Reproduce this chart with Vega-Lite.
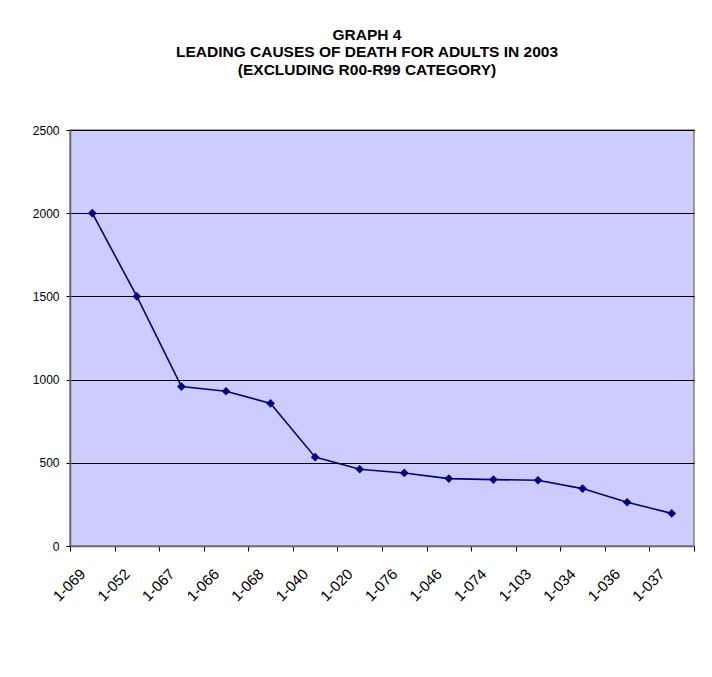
{
  "$schema": "https://vega.github.io/schema/vega-lite/v6.json",
  "width": 624,
  "height": 416,
  "autosize": {"type": "none"},
  "padding": {"left": 70, "top": 130, "right": 18, "bottom": 131},
  "background": "white",
  "title": {
    "text": ["GRAPH 4", "LEADING CAUSES OF DEATH FOR ADULTS IN 2003", "(EXCLUDING R00-R99 CATEGORY)"],
    "font": "Liberation Sans",
    "fontSize": 15.5,
    "fontWeight": "bold",
    "color": "black",
    "lineHeight": 17.5,
    "anchor": "middle",
    "frame": "group",
    "dx": -15,
    "offset": 46
  },
  "config": {
    "view": {"fill": "#CCCCFF", "stroke": "#808080", "strokeWidth": 1.5},
    "axis": {"labelFont": "Liberation Sans", "labelColor": "black", "labelFontSize": 12}
  },
  "data": {
    "values": [
      {"code": "1-069", "deaths": 2000},
      {"code": "1-052", "deaths": 1500},
      {"code": "1-067", "deaths": 958},
      {"code": "1-066", "deaths": 930},
      {"code": "1-068", "deaths": 857},
      {"code": "1-040", "deaths": 534},
      {"code": "1-020", "deaths": 461},
      {"code": "1-076", "deaths": 439},
      {"code": "1-046", "deaths": 405},
      {"code": "1-074", "deaths": 399},
      {"code": "1-103", "deaths": 395},
      {"code": "1-034", "deaths": 345},
      {"code": "1-036", "deaths": 263},
      {"code": "1-037", "deaths": 196}
    ]
  },
  "encoding": {
    "x": {
      "field": "code",
      "type": "ordinal",
      "sort": null,
      "scale": {"paddingInner": 0, "paddingOuter": 0},
      "axis": {
        "title": null,
        "labelAngle": -45,
        "labelAlign": "right",
        "labelBaseline": "middle",
        "labelFontSize": 15,
        "labelPadding": 20,
        "labelOffset": -10,
        "tickBand": "extent",
        "tickSize": 5,
        "tickColor": "black",
        "domainColor": "#666666",
        "domainWidth": 1.5,
        "grid": false
      }
    },
    "y": {
      "field": "deaths",
      "type": "quantitative",
      "scale": {"domain": [0, 2500], "nice": false},
      "axis": {
        "title": null,
        "values": [0, 500, 1000, 1500, 2000, 2500],
        "format": "d",
        "grid": true,
        "gridColor": "black",
        "gridOpacity": 1,
        "gridWidth": 1,
        "tickSize": 4,
        "tickColor": "black",
        "domainColor": "#666666",
        "domainWidth": 1.5,
        "labelPadding": 7
      }
    }
  },
  "layer": [
    {"mark": {"type": "line", "color": "#000080", "strokeWidth": 1.6}},
    {"mark": {"type": "point", "shape": "diamond", "filled": true, "color": "#000080", "opacity": 1, "size": 75}}
  ]
}
